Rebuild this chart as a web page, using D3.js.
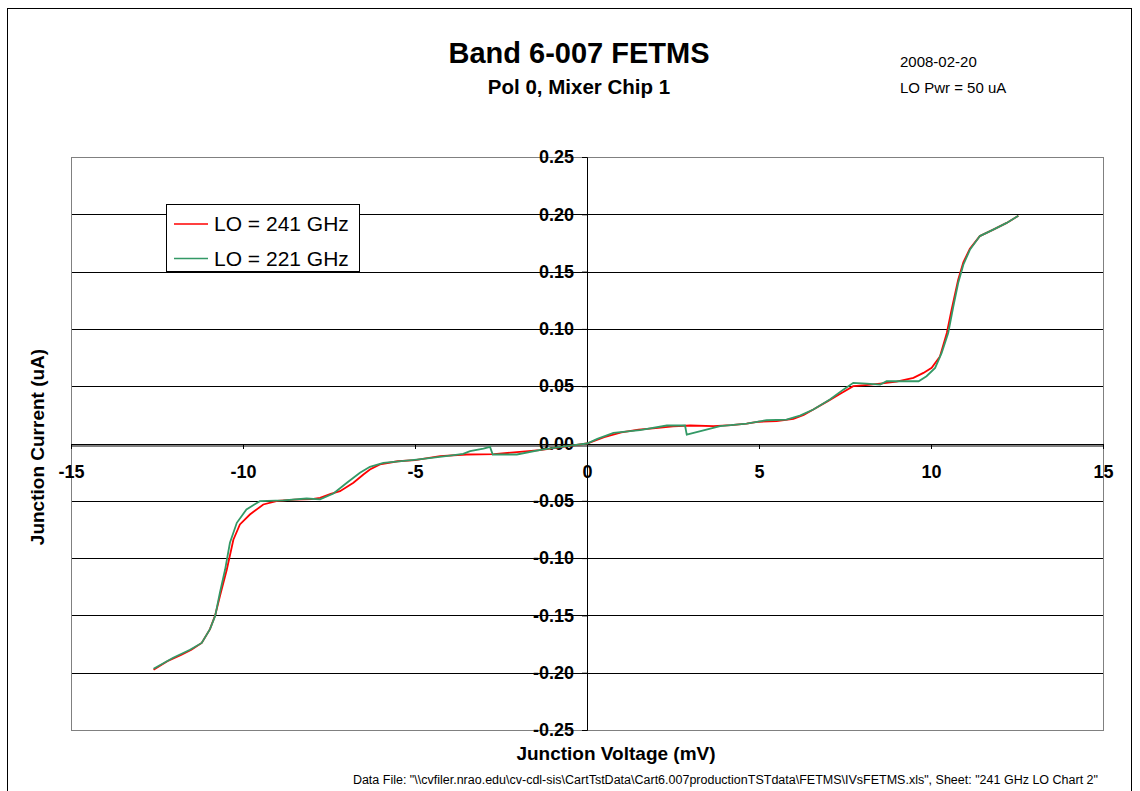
<!DOCTYPE html>
<html><head><meta charset="utf-8">
<script src="https://cdn.jsdelivr.net/npm/d3@7"></script>
<style>body{margin:0;background:#fff}svg{display:block}text{font-family:Arial,"Liberation Sans",sans-serif}</style>
</head><body>
<script>
// ---- data ----
const seriesNames = ["LO = 241 GHz", "LO = 221 GHz"];
const volts241 = [-12.6,-12.2,-11.8,-11.5,-11.2,-10.96,-10.81,-10.67,-10.47,-10.28,-10.09,-9.8,-9.41,-9.0,-8.5,-8.0,-7.76,-7.45,-7.18,-6.79,-6.5,-6.31,-6.02,-5.5,-5.0,-4.27,-3.5,-2.7,-2.04,-1.37,-0.6,0,0.5,1.0,1.5,2.0,2.5,3.0,3.67,4.2,4.64,5.0,5.51,6.0,6.3,6.58,7.0,7.4,7.74,8.1,8.52,9.0,9.49,9.78,10.02,10.26,10.46,10.6,10.79,10.94,11.13,11.42,11.81,12.2,12.54];
const curr241 = [-0.1975,-0.190,-0.1845,-0.180,-0.174,-0.162,-0.150,-0.133,-0.110,-0.084,-0.0706,-0.062,-0.0532,-0.050,-0.049,-0.0485,-0.0474,-0.044,-0.0416,-0.0343,-0.027,-0.0227,-0.0183,-0.0155,-0.0145,-0.011,-0.0096,-0.0092,-0.0076,-0.0058,-0.0025,0,0.0055,0.0098,0.0122,0.0135,0.015,0.0157,0.0151,0.016,0.0174,0.019,0.0195,0.0215,0.025,0.0297,0.037,0.044,0.050,0.051,0.0523,0.054,0.0573,0.0616,0.066,0.076,0.0965,0.117,0.143,0.158,0.170,0.181,0.1866,0.1925,0.1988];
const volts221 = [-12.6,-12.03,-11.54,-11.2,-10.96,-10.81,-10.67,-10.52,-10.38,-10.18,-9.9,-9.51,-8.83,-8.15,-7.76,-7.37,-6.98,-6.6,-6.31,-5.92,-4.95,-3.98,-3.6,-3.4,-3.01,-2.82,-2.74,-2.04,-1.27,-0.59,0,0.3,0.77,1.54,2.32,2.85,2.9,3.67,3.87,4.64,5.22,5.8,6.19,6.58,7.06,7.45,7.74,8.13,8.52,8.71,9.2,9.64,9.87,10.12,10.31,10.5,10.65,10.79,10.94,11.13,11.42,11.81,12.2,12.54];
const curr221 = [-0.1965,-0.187,-0.180,-0.174,-0.162,-0.1506,-0.130,-0.110,-0.0866,-0.0692,-0.0576,-0.0503,-0.0497,-0.048,-0.0488,-0.0436,-0.0343,-0.0256,-0.0203,-0.0169,-0.014,-0.0105,-0.009,-0.0067,-0.0044,-0.0029,-0.0096,-0.0096,-0.0052,-0.0023,0,0.004,0.0093,0.0116,0.0157,0.0157,0.0078,0.0137,0.0151,0.0174,0.0203,0.0209,0.0244,0.0297,0.0384,0.047,0.0529,0.0523,0.0514,0.0543,0.0543,0.0543,0.0587,0.066,0.079,0.0965,0.1197,0.140,0.156,0.169,0.181,0.1866,0.1925,0.1988];
const xTicks = [-15,-10,-5,0,5,10,15];
const yTicks = [-0.25,-0.20,-0.15,-0.10,-0.05,0.00,0.05,0.10,0.15,0.20,0.25];

const W=1140,H=791;
const svg=d3.select("body").append("svg").attr("width",W).attr("height",H);
// outer border
svg.append("rect").attr("x",7.5).attr("y",8.5).attr("width",1124).attr("height",800).attr("fill","none").attr("stroke","#000");

const L=71,R=1103,T=157,B=730;
const x=d3.scaleLinear().domain([-15,15]).range([L,R]);
const y=d3.scaleLinear().domain([-0.25,0.25]).range([B,T]);

// gridlines
svg.append("g").selectAll("line").data(yTicks.filter(v=>v!==0.25&&v!==-0.25)).join("line")
  .attr("x1",L).attr("x2",R).attr("y1",d=>Math.round(y(d))+0.5).attr("y2",d=>Math.round(y(d))+0.5)
  .attr("stroke","#000").attr("stroke-width",1);
// plot border
svg.append("rect").attr("x",L+0.5).attr("y",T+0.5).attr("width",R-L).attr("height",B-T).attr("fill","none").attr("stroke","#808080");

const FONT="Arial, Liberation Sans, sans-serif";
// x axis at y=0
const x0=Math.round(y(0))+0.5;
svg.append("line").attr("x1",L).attr("x2",R).attr("y1",x0+1.5).attr("y2",x0+1.5).attr("stroke","#808080").attr("stroke-width",2);
const xAxis=d3.axisBottom(x).tickValues(xTicks).tickSize(5).tickFormat(d=>String(d));
const gx=svg.append("g").attr("transform",`translate(0,${x0-0.5})`).call(xAxis);
gx.select(".domain").attr("stroke","#000");
gx.selectAll(".tick line").attr("stroke","#000");
gx.selectAll("text").attr("font-size",18).attr("font-weight","bold").attr("fill","#000").attr("y",34).attr("dy",0).attr("font-family",FONT);

// y axis at x=0
const y0=Math.round(x(0))+0.5;
const yAxis=d3.axisLeft(y).tickValues(yTicks).tickSize(5).tickFormat(d=>d.toFixed(2));
const gy=svg.append("g").attr("transform",`translate(${y0-0.5},0)`).call(yAxis);
gy.select(".domain").attr("stroke","#000");
gy.selectAll(".tick line").attr("stroke","#000");
gy.selectAll("text").attr("font-size",18).attr("font-weight","bold").attr("fill","#000").attr("x",-13).attr("font-family",FONT);

// curves
const line=d3.line().x(d=>x(d[0])).y(d=>y(d[1]));
const s241=volts241.map((v,i)=>[v,curr241[i]]);
const s221=volts221.map((v,i)=>[v,curr221[i]]);
const colors=["#ff0000","#339966"];
svg.append("path").datum(s241).attr("d",line).attr("fill","none").attr("stroke",colors[0]).attr("stroke-width",1.8);
svg.append("path").datum(s221).attr("d",line).attr("fill","none").attr("stroke",colors[1]).attr("stroke-width",1.8);

// titles
svg.append("text").attr("x",579).attr("y",63).attr("text-anchor","middle").attr("font-size",29).attr("font-weight","bold").text("Band 6-007 FETMS");
svg.append("text").attr("x",579).attr("y",94).attr("text-anchor","middle").attr("font-size",20.5).attr("font-weight","bold").text("Pol 0, Mixer Chip 1");
svg.append("text").attr("x",900).attr("y",67).attr("font-size",15).text("2008-02-20");
svg.append("text").attr("x",900).attr("y",93).attr("font-size",15).text("LO Pwr = 50 uA");

// axis titles
svg.append("text").attr("transform","translate(44,447) rotate(-90)").attr("text-anchor","middle").attr("font-size",19).attr("font-weight","bold").text("Junction Current (uA)");
svg.append("text").attr("x",616).attr("y",760).attr("text-anchor","middle").attr("font-size",19).attr("font-weight","bold").text("Junction Voltage (mV)");
svg.append("text").attr("x",1098).attr("y",784).attr("text-anchor","end").attr("font-size",12.5)
  .text('Data File: "\\\\cvfiler.nrao.edu\\cv-cdl-sis\\CartTstData\\Cart6.007productionTSTdata\\FETMS\\IVsFETMS.xls", Sheet: "241 GHz LO Chart 2"');

// legend
const lg=svg.append("g");
lg.append("rect").attr("x",166.5).attr("y",204.5).attr("width",193).attr("height",67).attr("fill","#fff").attr("stroke","#000");
seriesNames.forEach((n,i)=>{
  const yy=224+i*34.5;
  lg.append("line").attr("x1",174).attr("x2",208).attr("y1",yy).attr("y2",yy).attr("stroke",colors[i]).attr("stroke-width",1.6);
  lg.append("text").attr("x",214).attr("y",yy+7).attr("font-size",21).text(n);
});
</script>
</body></html>
